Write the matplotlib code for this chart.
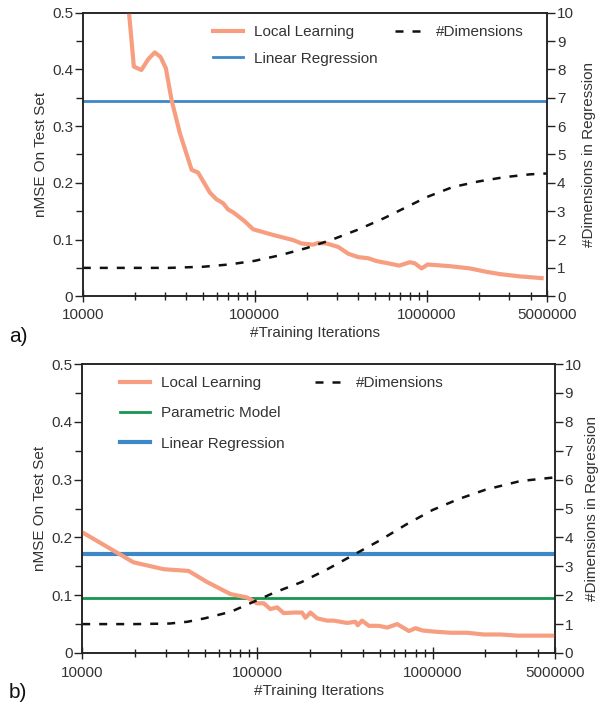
import numpy as np
import matplotlib
matplotlib.use("Agg")
import matplotlib.pyplot as plt
from matplotlib.ticker import FixedLocator, MultipleLocator, NullFormatter
from matplotlib.lines import Line2D

plt.rcParams['font.family'] = ['Liberation Sans', 'DejaVu Sans']
plt.rcParams['font.size'] = 11

# ---------------- Data: panel a ----------------
a_local_x = [18500, 19800, 21900, 24000, 26200, 28300, 30400, 32800, 36700, 42900,
             46800, 54700, 59800, 65400, 69900, 74800, 86700, 97800, 128000, 167000,
             187000, 218000, 233000, 261000, 305000, 349000, 398000, 456000, 510000,
             596000, 690000, 796000, 851000, 931000, 1010000, 1360000, 1780000,
             2220000, 2660000, 3470000, 4640000]
a_local_y = [0.505, 0.405, 0.399, 0.418, 0.430, 0.422, 0.402, 0.346, 0.287, 0.223,
             0.218, 0.183, 0.171, 0.164, 0.153, 0.148, 0.133, 0.118, 0.108, 0.099,
             0.093, 0.091, 0.094, 0.093, 0.087, 0.075, 0.069, 0.067, 0.062,
             0.058, 0.054, 0.060, 0.058, 0.049, 0.056, 0.053, 0.049,
             0.043, 0.039, 0.035, 0.032]
a_linreg = 0.345
a_dims_x = [10000, 20000, 31600, 50100, 70800, 100000, 141000, 200000, 282000,
            398000, 562000, 794000, 1000000, 1410000, 2000000, 2820000, 3980000, 5000000]
a_dims_y = [1.0, 1.0, 1.0, 1.04, 1.12, 1.25, 1.45, 1.70, 2.0,
            2.35, 2.75, 3.2, 3.5, 3.85, 4.05, 4.2, 4.3, 4.33]

# ---------------- Data: panel b ----------------
b_local_x = [10000, 19600, 29200, 40500, 51500, 70200, 87300, 99500, 108700, 118600,
             129700, 141300, 162200, 179900, 188000, 201000, 219000, 250000, 273000,
             325000, 363000, 374000, 396000, 433000, 493000, 551000, 628000, 733000,
             800000, 873000, 1020000, 1270000, 1580000, 1960000, 2450000, 3050000,
             3790000, 5000000]
b_local_y = [0.209, 0.157, 0.145, 0.142, 0.123, 0.102, 0.096, 0.086, 0.086, 0.076,
             0.079, 0.069, 0.070, 0.070, 0.061, 0.070, 0.060, 0.056, 0.056,
             0.052, 0.054, 0.048, 0.056, 0.047, 0.047, 0.044, 0.050, 0.038,
             0.043, 0.039, 0.037, 0.035, 0.035, 0.032, 0.032, 0.030,
             0.030, 0.030]
b_param = 0.096
b_linreg = 0.172
b_dims_x = [10000, 20000, 31600, 39800, 50100, 70800, 100000, 126000, 178000, 251000,
            355000, 501000, 708000, 1000000, 1410000, 2000000, 3160000, 5000000]
b_dims_y = [1.0, 1.0, 1.02, 1.08, 1.2, 1.43, 1.83, 2.1, 2.45, 2.9,
            3.4, 3.9, 4.45, 4.95, 5.33, 5.65, 5.95, 6.08]

xtick_vals = [10000, 100000, 1000000, 5000000]
xtick_labels = ['10000', '100000', '1000000', '5000000']

ORANGE = '#f79e80'
BLUE = '#3f88c8'
GREEN = '#179651'
TXT = '#333333'
FS = 11

fig = plt.figure(figsize=(6.0, 7.07), dpi=100)

def style_axes(ax, ax2, rpad, tpad):
    ax.set_xscale('log')
    ax.set_xlim(10000, 5000000)
    ax.set_ylim(0, 0.5)
    ax2.set_ylim(0, 10)
    ax.xaxis.set_major_locator(FixedLocator(xtick_vals))
    ax.set_xticklabels(xtick_labels)
    ax.xaxis.set_minor_locator(FixedLocator(
        [m * 10 ** e for e in (4, 5) for m in range(2, 10)] + [2e6, 3e6, 4e6]))
    ax.xaxis.set_minor_formatter(NullFormatter())
    ax.yaxis.set_minor_locator(MultipleLocator(0.05))
    ax.set_yticks(np.arange(0, 0.51, 0.1))
    ax.set_yticklabels(['0', '0.1', '0.2', '0.3', '0.4', '0.5'])
    ax2.yaxis.set_major_locator(MultipleLocator(1))
    for a in (ax, ax2):
        a.tick_params(which='major', length=6, width=1, colors='#222222',
                      labelcolor=TXT, labelsize=FS, direction='out', pad=1)
        a.tick_params(which='minor', length=5, width=1, colors='#222222', direction='out')
        for s in a.spines.values():
            s.set_linewidth(1.1)
            s.set_color('#222222')
    ax.tick_params(axis='x', which='major', direction='inout', length=9, pad=tpad)
    ax.tick_params(axis='x', which='minor', direction='inout', length=6)
    ax.set_xlabel('#Training Iterations', color=TXT, fontsize=FS, labelpad=3)
    ax.set_ylabel('nMSE On Test Set', color=TXT, fontsize=FS, labelpad=3)
    ax2.set_ylabel('#Dimensions in Regression', color=TXT, fontsize=FS, labelpad=rpad)

dash = (0, (3.2, 3.6))

legkw = dict(loc='upper left', bbox_transform=fig.transFigure, frameon=False,
             borderpad=0, borderaxespad=0, handlelength=1.96,
             handletextpad=0.72, labelcolor=TXT, fontsize=FS)

# ---------- Panel a ----------
axa = fig.add_axes([0.138, 0.581, 0.774, 0.401])
axa2 = axa.twinx()
style_axes(axa, axa2, 6, 4)
axa.plot(a_local_x, a_local_y, color=ORANGE, lw=3.0, solid_joinstyle='round', zorder=3)
axa.axhline(a_linreg, color=BLUE, lw=2.0, zorder=2)
axa2.plot(a_dims_x, a_dims_y, color='#111111', lw=1.8, linestyle=dash)

h_ll = Line2D([], [], color=ORANGE, lw=3.0)
h_lr = Line2D([], [], color=BLUE, lw=2.0)
h_dm = Line2D([], [], color='#111111', lw=1.8, linestyle=dash)
leg1 = axa2.legend([h_ll, h_lr], ['Local Learning', 'Linear Regression'],
                   bbox_to_anchor=(0.355, 0.9646), labelspacing=0.83, **legkw)
axa2.add_artist(leg1)
axa2.legend([h_dm], ['#Dimensions'], bbox_to_anchor=(0.658, 0.9646), **legkw)
fig.text(0.015, 0.524, 'a)', fontsize=15, color='#111111', va='center', ha='left')

# ---------- Panel b ----------
axb = fig.add_axes([0.137, 0.0764, 0.788, 0.4086])
axb2 = axb.twinx()
style_axes(axb, axb2, 2, 5)
axb.plot(b_local_x, b_local_y, color=ORANGE, lw=3.0, solid_joinstyle='round', zorder=3)
axb.axhline(b_param, color=GREEN, lw=2.0, zorder=2)
axb.axhline(b_linreg, color=BLUE, lw=3.0, zorder=2)
axb2.plot(b_dims_x, b_dims_y, color='#111111', lw=1.8, linestyle=dash)

h_pm = Line2D([], [], color=GREEN, lw=2.0)
h_lr2 = Line2D([], [], color=BLUE, lw=3.0)
leg2 = axb2.legend([h_ll, h_pm, h_lr2], ['Local Learning', 'Parametric Model', 'Linear Regression'],
                   bbox_to_anchor=(0.2, 0.468), labelspacing=1.06, **legkw)
axb2.add_artist(leg2)
axb2.legend([h_dm], ['#Dimensions'], bbox_to_anchor=(0.525, 0.468), **legkw)
fig.text(0.015, 0.021, 'b)', fontsize=15, color='#111111', va='center', ha='left')

fig.savefig('out.png', dpi=100)
